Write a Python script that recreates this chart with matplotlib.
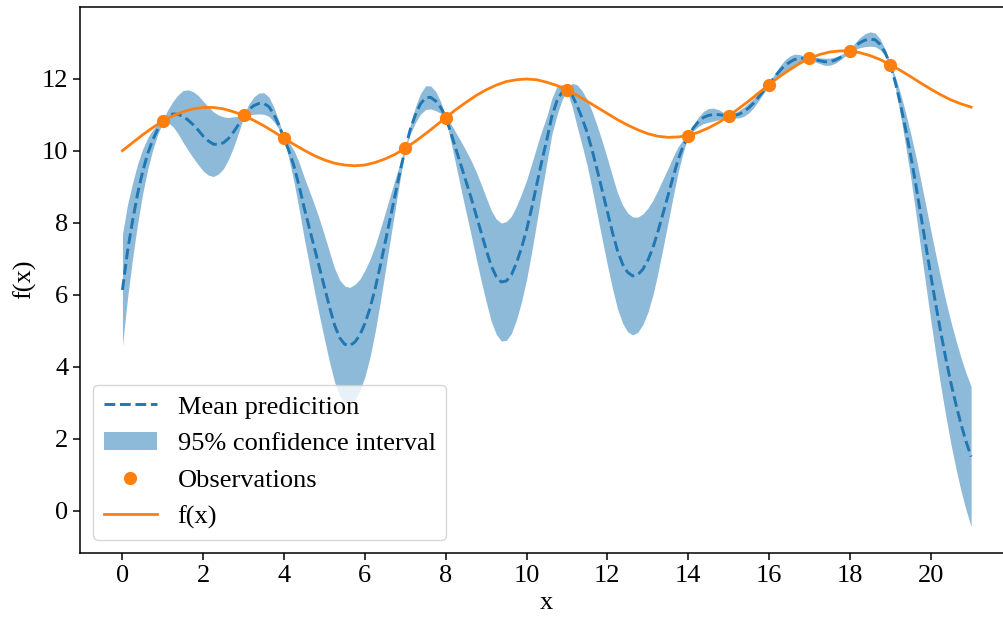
import numpy as np
import matplotlib.pyplot as plt

plt.rcParams['font.family'] = ['Liberation Serif', 'DejaVu Serif']
plt.rcParams['font.size'] = 19

# sample positions (curves every 0.25 / 0.125 on x)
x_grid = np.linspace(0, 21, 85)
x_fine = np.linspace(0, 21, 169)

# observed points
obs_x = [1, 3, 4, 7, 8, 11, 14, 15, 16, 17, 18, 19]
obs_y = [10.82, 10.98, 10.34, 10.07, 10.92, 11.68, 10.42, 10.96, 11.83, 12.56, 12.77, 12.39]

# true function f(x)
f_true = [10.00, 10.22, 10.44, 10.64, 10.82, 10.97, 11.08, 11.16, 11.20, 11.20,
          11.16, 11.08, 10.98, 10.84, 10.69, 10.52, 10.34, 10.17, 10.01, 9.86,
          9.74, 9.65, 9.60, 9.58, 9.60, 9.67, 9.77, 9.90, 10.07, 10.26,
          10.47, 10.69, 10.92, 11.14, 11.34, 11.53, 11.69, 11.82, 11.92, 11.97,
          11.99, 11.97, 11.90, 11.81, 11.68, 11.54, 11.37, 11.20, 11.03, 10.86,
          10.71, 10.58, 10.47, 10.40, 10.37, 10.38, 10.42, 10.51, 10.63, 10.78,
          10.96, 11.17, 11.38, 11.61, 11.83, 12.05, 12.24, 12.42, 12.56, 12.67,
          12.74, 12.77, 12.77, 12.72, 12.64, 12.53, 12.39, 12.23, 12.06, 11.88,
          11.71, 11.55, 11.41, 11.30, 11.21]

# mean prediction (on x_fine)
y_mean = [6.13, 7.20, 8.05, 8.80, 9.42, 9.92, 10.30, 10.60, 10.82,
          10.96, 11.02, 11.01, 10.95, 10.85, 10.72, 10.57, 10.40,
          10.27, 10.18, 10.17, 10.22, 10.34, 10.52, 10.73, 10.96,
          11.14, 11.25, 11.31, 11.31, 11.22, 11.00, 10.70, 10.34,
          9.98, 9.55, 9.00, 8.40, 7.85, 7.30, 6.75, 6.20,
          5.65, 5.15, 4.80, 4.62, 4.58, 4.68, 4.88, 5.20,
          5.62, 6.15, 6.78, 7.45, 8.13, 8.80, 9.45, 10.07,
          10.60, 11.00, 11.30, 11.47, 11.48, 11.38, 11.20, 10.93,
          10.50, 10.05, 9.60, 9.15, 8.70, 8.22, 7.73, 7.25,
          6.80, 6.50, 6.35, 6.38, 6.55, 6.88, 7.30, 7.80,
          8.40, 9.05, 9.70, 10.30, 10.95, 11.38, 11.62, 11.69,
          11.55, 11.25, 10.90, 10.50, 10.00, 9.45, 8.88, 8.30,
          7.73, 7.22, 6.85, 6.62, 6.52, 6.55, 6.70, 6.95,
          7.30, 7.75, 8.25, 8.75, 9.27, 9.75, 10.13, 10.41,
          10.63, 10.80, 10.92, 10.98, 11.00, 11.00, 10.98, 10.96,
          10.97, 11.01, 11.08, 11.19, 11.33, 11.50, 11.67, 11.83,
          12.03, 12.20, 12.35, 12.45, 12.53, 12.56, 12.57, 12.56,
          12.53, 12.50, 12.47, 12.47, 12.51, 12.58, 12.67, 12.77,
          12.90, 13.00, 13.07, 13.10, 13.08, 12.95, 12.72, 12.39,
          11.90, 11.30, 10.62, 9.90, 9.10, 8.25, 7.40, 6.55,
          5.73, 4.95, 4.22, 3.55, 2.95, 2.40, 1.92, 1.50]

# half width of the 95% confidence band (on x_fine)
y_half = [1.55, 1.30, 1.05, 0.83, 0.62, 0.44, 0.28, 0.14, 0.03,
          0.18, 0.35, 0.54, 0.72, 0.84, 0.92, 0.96, 0.97,
          0.95, 0.90, 0.82, 0.72, 0.58, 0.42, 0.23, 0.03,
          0.15, 0.24, 0.29, 0.30, 0.27, 0.20, 0.11, 0.03,
          0.24, 0.45, 0.66, 0.85, 1.03, 1.20, 1.34, 1.45,
          1.53, 1.58, 1.61, 1.62, 1.62, 1.60, 1.55, 1.48,
          1.36, 1.20, 1.02, 0.82, 0.62, 0.42, 0.22, 0.03,
          0.13, 0.22, 0.29, 0.33, 0.32, 0.27, 0.16, 0.03,
          0.25, 0.45, 0.66, 0.85, 1.03, 1.20, 1.34, 1.45,
          1.54, 1.60, 1.64, 1.65, 1.63, 1.58, 1.50, 1.38,
          1.23, 1.05, 0.85, 0.65, 0.50, 0.40, 0.22, 0.03,
          0.32, 0.58, 0.76, 0.92, 1.08, 1.23, 1.37, 1.48,
          1.56, 1.61, 1.64, 1.65, 1.64, 1.60, 1.54, 1.45,
          1.32, 1.15, 0.96, 0.76, 0.56, 0.36, 0.18, 0.03,
          0.08, 0.13, 0.17, 0.19, 0.18, 0.14, 0.08, 0.03,
          0.07, 0.10, 0.13, 0.14, 0.13, 0.10, 0.06, 0.03,
          0.08, 0.12, 0.15, 0.17, 0.15, 0.11, 0.06, 0.03,
          0.06, 0.08, 0.10, 0.10, 0.09, 0.07, 0.05, 0.03,
          0.09, 0.14, 0.18, 0.20, 0.19, 0.15, 0.09, 0.03,
          0.15, 0.30, 0.45, 0.60, 0.78, 0.95, 1.10, 1.25,
          1.38, 1.50, 1.60, 1.70, 1.78, 1.85, 1.90, 1.95]

mean = np.array(y_mean)
half = np.array(y_half)

fig = plt.figure(figsize=(10.04, 6.17), dpi=100)
ax = fig.add_axes([0.0797, 0.1042, 0.9298, 0.885])

ax.plot(x_fine, mean, '--', color='C0', lw=2.1, label='Mean predicition')
ax.fill_between(x_fine, mean - half, mean + half, color='C0', alpha=0.5,
                lw=0, label='95% confidence interval')
ax.plot(obs_x, obs_y, 'o', color='C1', markersize=8.5, label='Observations')
ax.plot(x_grid, f_true, '-', color='C1', lw=2.0, label='f(x)')

ax.set_xlim(-1.05, 22.05)
ax.set_ylim(-1.17, 14.0)
ax.set_xticks(range(0, 21, 2))
ax.set_yticks(range(0, 13, 2))
ax.tick_params(length=5, width=1.1)
for s in ax.spines.values():
    s.set_linewidth(1.1)
ax.set_xlabel('x')
ax.set_ylabel('f(x)')
ax.legend(loc='lower left')

fig.savefig('out.png', dpi=100)
